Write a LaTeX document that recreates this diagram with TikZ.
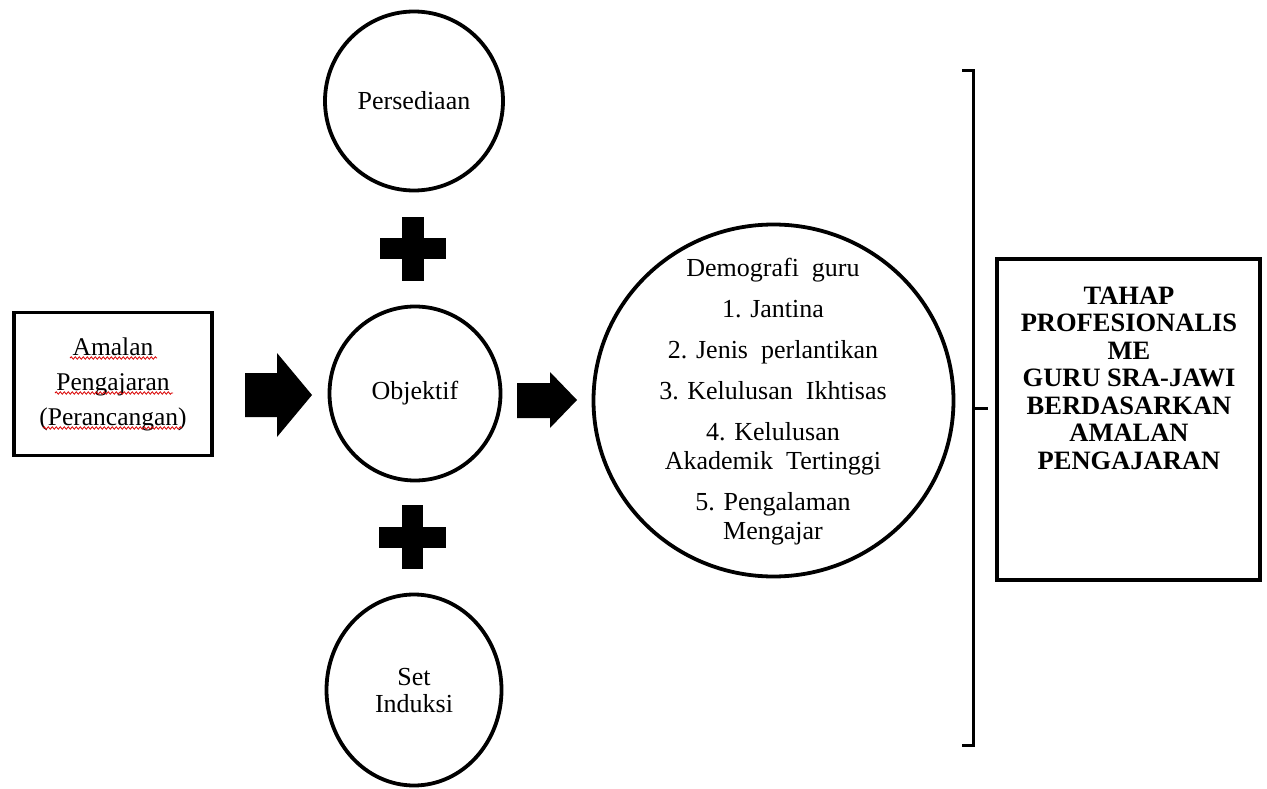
\documentclass[tikz,border=0pt]{standalone}
\usepackage{fontspec}
\setmainfont{Liberation Serif}
\usetikzlibrary{shapes.geometric,decorations.pathmorphing}
\begin{document}
\begin{tikzpicture}[x=1pt,y=-1pt,
  bubble/.style={draw, line width=3.8pt, ellipse, inner sep=0pt},
  frame/.style={draw, line width=3.8pt, rectangle, inner sep=0pt},
  body/.style={font=\fontsize{26}{29}\selectfont, align=center, inner sep=0pt},
  heavy/.style={font=\bfseries\fontsize{26.5}{27.5}\selectfont, align=center, inner sep=0pt},
  blk/.style={fill=black},
  squig/.style={draw=red!85!black, line width=0.8pt, decorate, decoration={snake, amplitude=1.2pt, segment length=4pt}},
  brk/.style={draw, line width=3pt}
]
\useasboundingbox (0,0) rectangle (1267,789);

% left box
\node[frame, minimum width=198, minimum height=143, body, font=\fontsize{25.5}{35}\selectfont] (amalan) at (113,384) {Amalan\\Pengajaran\\(Perancangan)};
\draw[squig] (70,358) -- (157,358);
\draw[squig] (55,393) -- (173,393);
\draw[squig] (43,428) -- (182,428);

% block arrows
\fill[blk] (245,373) -- (277,373) -- (277,353) -- (312,395) -- (277,437) -- (277,417) -- (245,417) -- cycle;
\fill[blk] (517,383) -- (550,383) -- (550,372) -- (577,400) -- (550,428) -- (550,418) -- (517,418) -- cycle;

% circles
\node[bubble, body, minimum width=178, minimum height=179] (pers) at (414,101) {Persediaan};
\node[bubble, body, minimum width=171, minimum height=174] (obj) at (415,393.5) {Objektif};
\node[bubble, body, font=\fontsize{26}{27}\selectfont, minimum width=175, minimum height=191] (set) at (414,690) {\strut Set\\Induksi};

% plus signs
\fill[blk] (380,238) rectangle (446,259);
\fill[blk] (402,217) rectangle (424,281);
\fill[blk] (379,527) rectangle (446,548);
\fill[blk] (402,505) rectangle (423,569);

% demography circle
\node[bubble, minimum width=360, minimum height=352] (demo) at (773.5,400.5) {};
\node[body] (demotext) at (773,402) {Demografi\ \ guru\\[12pt]1. Jantina\\[12pt]2. Jenis\ \ perlantikan\\[12pt]3. Kelulusan\ \ Ikhtisas\\[12pt]4. Kelulusan\\Akademik\ \ Tertinggi\\[12pt]5. Pengalaman\\Mengajar};

% bracket
\coordinate (btop) at (962,71);
\coordinate (bbot) at (962,745);
\coordinate (bmid) at (973,408);
\coordinate (btip) at (988,408);
\draw[brk] (btop) -- (973,71) -- (973,745) -- (bbot);
\draw[brk] (bmid) -- (btip);

% result box
\node[frame, minimum width=263, minimum height=321] (res) at (1128.5,419.5) {};
\node[heavy] (restext) at (1129,378) {TAHAP\\PROFESIONALIS\\ME\\GURU SRA-JAWI\\BERDASARKAN\\AMALAN\\PENGAJARAN};
\end{tikzpicture}
\end{document}
